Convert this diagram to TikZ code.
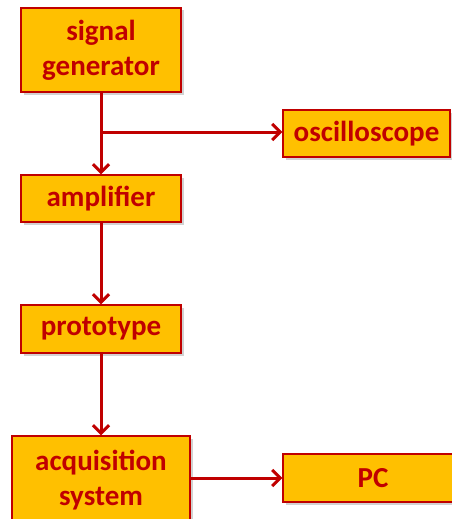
\documentclass[tikz,border=0pt]{standalone}
\usepackage{fontspec}
\setmainfont{Carlito}
\usetikzlibrary{positioning,arrows.meta,shadows}
\definecolor{boxgold}{RGB}{255,192,0}
\definecolor{boxred}{RGB}{192,0,0}
\tikzset{
  blk/.style={draw=boxred,fill=boxgold,line width=1.3pt,align=center,
    text=boxred,font=\bfseries\fontsize{29}{35}\selectfont,inner sep=0pt,
    drop shadow={shadow xshift=2.5pt,shadow yshift=-2.5pt,fill=black!35}},
  flow/.style={-{Straight Barb[length=8pt,width=16pt,line width=3pt]},
    line width=3pt,boxred},
}
\begin{document}
\begin{tikzpicture}[x=1pt,y=-1pt]
  \useasboundingbox (0,0) rectangle (452,519);
  \clip (0,0) rectangle (452,519);
  % blocks, centred at pixel coordinates
  \node[blk,minimum width=160,minimum height=84] (gen) at (101,50) {signal\\generator};
  \node[blk,minimum width=167,minimum height=47] (osc) at (366.5,133.5) {oscilloscope};
  \node[blk,minimum width=160,minimum height=47] (amp) at (101,198.5) {amplifier};
  \node[blk,minimum width=160,minimum height=48] (proto) at (101,329) {prototype};
  \node[blk,minimum width=178,minimum height=88] (acq) at (101,480) {acquisition\\system};
  \node[blk,minimum width=180,minimum height=48] (pc) at (373,478) {PC};
  % connectors
  \coordinate (tap) at (101,132);
  \draw[flow] (gen) -- (amp);
  \draw[flow] (tap) -- (tap -| osc.west);
  \draw[flow] (amp) -- (proto);
  \draw[flow] (proto) -- (acq);
  \draw[flow] (acq.east |- pc) -- (pc);
\end{tikzpicture}
\end{document}
